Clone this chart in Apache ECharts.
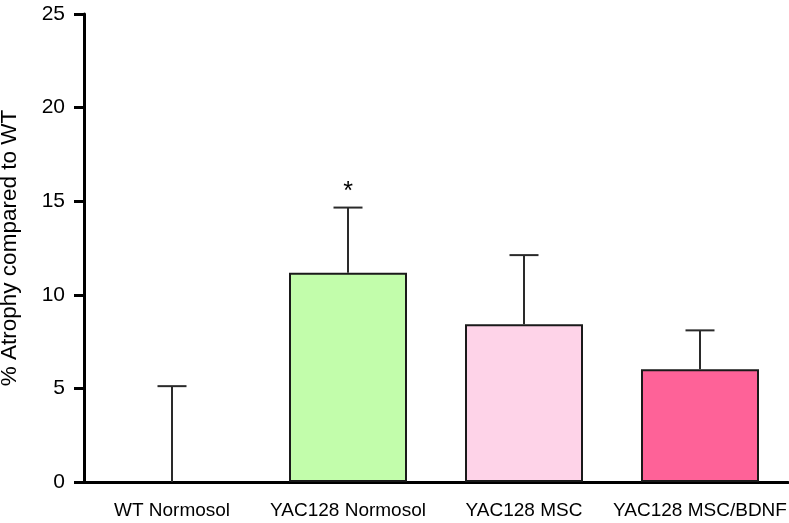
<!DOCTYPE html>
<html>
<head>
<meta charset="utf-8">
<script src="https://cdn.jsdelivr.net/npm/echarts@6/dist/echarts.min.js"></script>
<style>
html,body{margin:0;padding:0;background:#fff;}
#chart{width:789px;height:523px;}
</style>
</head>
<body>
<div id="chart"></div>
<script>
const categories = ['WT Normosol', 'YAC128 Normosol', 'YAC128 MSC', 'YAC128 MSC/BDNF'];
const means = [0, 11.18, 8.43, 6.02];
const errorTops = [5.12, 14.66, 12.12, 8.1];
const significance = ['', '*', '', ''];
const barColors = ['#ffffff', '#c2fdab', '#fed3e8', '#fe6298'];
const yTicks = [0, 5, 10, 15, 20, 25];

const chart = echarts.init(document.getElementById('chart'));
const FONT = '"Liberation Sans", Arial, Helvetica, sans-serif';

chart.setOption({
  animation: false,
  grid: { left: 84, right: 1, top: 14, bottom: 41, containLabel: false, outerBoundsMode: 'none' },
  xAxis: {
    type: 'category',
    data: categories,
    axisLine: { lineStyle: { color: '#000', width: 3 } },
    axisTick: { alignWithLabel: true, length: 10, lineStyle: { color: '#000', width: 3 } },
    axisLabel: { color: '#000', fontSize: 19, fontFamily: FONT, margin: 19, interval: 0, hideOverlap: false }
  },
  yAxis: {
    type: 'value',
    min: yTicks[0],
    max: yTicks[yTicks.length - 1],
    interval: 5,
    name: '% Atrophy compared to WT',
    nameLocation: 'middle',
    nameGap: 63,
    nameTextStyle: { color: '#000', fontSize: 22.5, fontFamily: FONT },
    axisLine: { show: true, lineStyle: { color: '#000', width: 3 } },
    axisTick: { show: true, length: 10, lineStyle: { color: '#000', width: 3 } },
    axisLabel: { color: '#000', fontSize: 21, fontFamily: FONT, margin: 19 },
    splitLine: { show: false }
  },
  series: [
    {
      type: 'bar',
      barWidth: 118,
      data: means.map((v, i) => ({
        value: v,
        itemStyle: { color: barColors[i], borderColor: '#1a1a1a', borderWidth: v > 0 ? 2 : 0 }
      })),
      z: 2
    },
    {
      type: 'custom',
      z: 3,
      data: categories.map((c, i) => [i, means[i], errorTops[i]]),
      renderItem: function (params, api) {
        const x = api.value(0);
        const base = api.coord([x, api.value(1)]);
        const top = api.coord([x, api.value(2)]);
        const half = 14.5;
        const children = [
          { type: 'line', shape: { x1: base[0], y1: base[1], x2: top[0], y2: top[1] }, style: { stroke: '#2a2a2a', lineWidth: 2 } },
          { type: 'line', shape: { x1: top[0] - half, y1: top[1], x2: top[0] + half, y2: top[1] }, style: { stroke: '#2a2a2a', lineWidth: 2 } }
        ];
        const s = significance[params.dataIndex];
        if (s) {
          children.push({
            type: 'text',
            style: { text: s, x: top[0], y: top[1] - 3, align: 'center', verticalAlign: 'bottom', fontSize: 25, fontFamily: FONT, fill: '#000' }
          });
        }
        return { type: 'group', children: children };
      }
    }
  ]
});
</script>
</body>
</html>
